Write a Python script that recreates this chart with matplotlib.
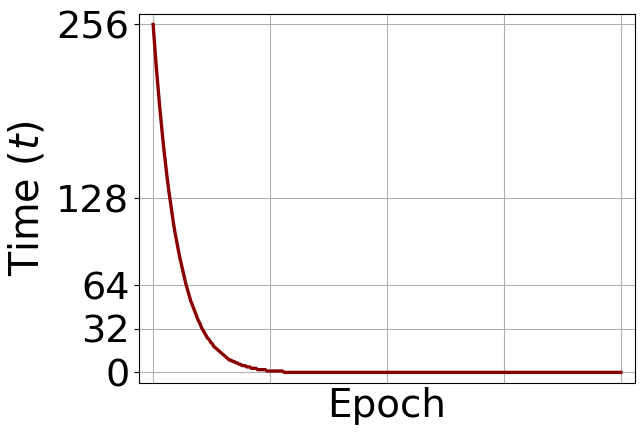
import numpy as np
import matplotlib
matplotlib.use("Agg")
import matplotlib.pyplot as plt

# time per epoch (integer steps towards the end)
decay = [256, 240, 225, 211, 198, 186, 174, 163, 153, 143, 134, 126, 118, 110,
         103, 97, 91, 85, 80, 75, 70, 65, 61, 57, 53, 50, 47, 44, 41, 38, 36,
         33, 31, 29, 27, 25, 24, 22, 21, 19, 18, 17, 16, 15, 14, 13, 12, 11,
         10, 9, 9, 8, 8, 7, 7, 6, 6, 5, 5, 5, 4, 4, 4, 3, 3, 3, 3, 2, 2, 2, 2,
         2, 2, 1, 1, 1, 1, 1, 1, 1, 1, 1, 1, 1]
n_epochs = 300
times = decay + [0] * (n_epochs + 1 - len(decay))
epochs = np.arange(len(times))

y_ticks = [0, 32, 64, 128, 256]
x_grid = [0, 75, 150, 225, 300]

fig = plt.figure(figsize=(6.44, 4.37), dpi=100)
ax = fig.add_axes([0.216, 0.124, 0.77, 0.844])

ax.plot(epochs, times, color='darkred', linewidth=2.4)

ax.margins(0.03)
ax.set_yticks(y_ticks)
ax.set_xticks(x_grid)
ax.tick_params(axis='x', length=0, labelbottom=False)
ax.tick_params(axis='y', labelsize=27.5)
ax.grid(True)

ax.set_xlabel('Epoch', fontsize=28, labelpad=3)
ax.set_ylabel('Time ($t$)', fontsize=28.5, labelpad=6)

fig.savefig('out.png', dpi=100)
